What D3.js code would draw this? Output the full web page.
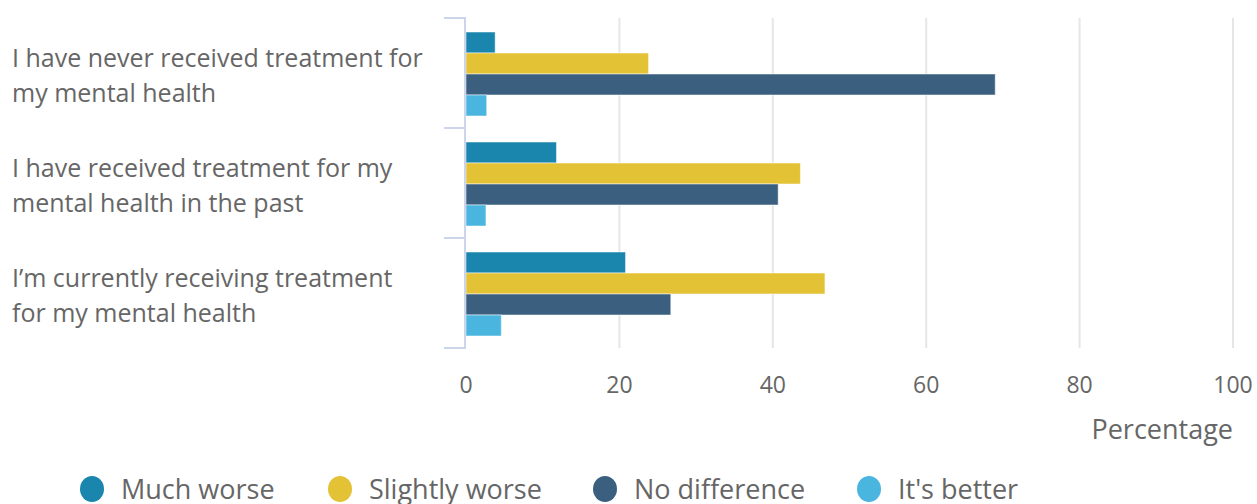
<!DOCTYPE html>
<html>
<head>
<meta charset="utf-8">
<script src="https://cdn.jsdelivr.net/npm/d3@7"></script>
<style>
  body { margin: 0; background: #fff; }
  svg text { font-family: "Open Sans", sans-serif; fill: #666; }
</style>
</head>
<body>
<div id="viz"></div>
<script>
// data
var categories = [
    ["I have never received treatment for", "my mental health"],
    ["I have received treatment for my", "mental health in the past"],
    ["I\u2019m currently receiving treatment", "for my mental health"]
];
var seriesNames = ["Much worse", "Slightly worse", "No difference", "It's better"];
var seriesColors = ["#1a85ad", "#e3c236", "#3a5f7f", "#4ab5de"];
var muchWorse = [3.8, 11.8, 20.8];
var slightlyWorse = [23.8, 43.6, 46.8];
var noDifference = [69, 40.7, 26.7];
var itsBetter = [2.7, 2.6, 4.6];
var xTicks = [0, 20, 40, 60, 80, 100];

var series = [muchWorse, slightlyWorse, noDifference, itsBetter];

var width = 1257, height = 504;
var margin = {top: 18, left: 466, right: 24, bottom: 156};

var svg = d3.select('#viz').append('svg')
    .attr('width', width)
    .attr('height', height);

var x = d3.scaleLinear()
    .domain([0, 100])
    .range([margin.left, width - margin.right]);

var y = d3.scaleBand()
    .domain(d3.range(categories.length))
    .range([margin.top, height - margin.bottom])
    .paddingInner(0)
    .paddingOuter(0);

var inner = d3.scaleBand()
    .domain(d3.range(series.length))
    .range([14, y.bandwidth() - 12]);

// grid lines
svg.append('g')
    .selectAll('line')
    .data(xTicks.slice(1))
    .enter().append('line')
    .attr('x1', d => x(d)).attr('x2', d => x(d))
    .attr('y1', margin.top).attr('y2', height - margin.bottom)
    .attr('stroke', '#e6e6e6')
    .attr('stroke-width', 2);

// bars
var groups = svg.append('g')
    .selectAll('g')
    .data(categories)
    .enter().append('g')
    .attr('transform', (d, i) => 'translate(0,' + y(i) + ')');

groups.selectAll('rect')
    .data((d, i) => series.map((s, j) => ({v: s[i], j: j})))
    .enter().append('rect')
    .attr('x', x(0))
    .attr('y', d => inner(d.j))
    .attr('width', d => x(d.v) - x(0))
    .attr('height', inner.bandwidth())
    .attr('fill', d => seriesColors[d.j])
    .attr('stroke', 'rgba(255,255,255,0.5)')
    .attr('stroke-width', 1);

// category axis line and ticks
var axisColor = '#ccd6eb';
svg.append('line')
    .attr('x1', x(0) - 1).attr('x2', x(0) - 1)
    .attr('y1', margin.top).attr('y2', height - margin.bottom)
    .attr('stroke', axisColor).attr('stroke-width', 2);

svg.append('g')
    .selectAll('line')
    .data(d3.range(categories.length + 1))
    .enter().append('line')
    .attr('x1', x(0) - 22).attr('x2', x(0))
    .attr('y1', d => margin.top + d * y.bandwidth())
    .attr('y2', d => margin.top + d * y.bandwidth())
    .attr('stroke', axisColor).attr('stroke-width', 2);

// category labels
groups.append('text')
    .attr('x', 12)
    .attr('font-size', 25)
    .selectAll('tspan')
    .data(d => d)
    .enter().append('tspan')
    .attr('x', 12)
    .attr('y', (d, k) => y.bandwidth() / 2 - 6 + k * 35)
    .text(d => d);

// x axis labels
svg.append('g')
    .selectAll('text')
    .data(xTicks)
    .enter().append('text')
    .attr('x', d => x(d))
    .attr('y', 393)
    .attr('text-anchor', 'middle')
    .attr('font-size', 23)
    .text(d => d);

svg.append('text')
    .attr('x', x(100))
    .attr('y', 439)
    .attr('text-anchor', 'end')
    .attr('font-size', 27)
    .text('Percentage');

// legend
var legendX = [92, 340, 605, 869];
var legend = svg.append('g')
    .selectAll('g')
    .data(seriesNames)
    .enter().append('g')
    .attr('transform', (d, i) => 'translate(' + legendX[i] + ',489)');

legend.append('ellipse')
    .attr('rx', 12)
    .attr('ry', 13)
    .attr('fill', (d, i) => seriesColors[i]);

legend.append('text')
    .attr('x', 29)
    .attr('y', 10)
    .attr('font-size', 27)
    .text(d => d);
</script>
</body>
</html>
